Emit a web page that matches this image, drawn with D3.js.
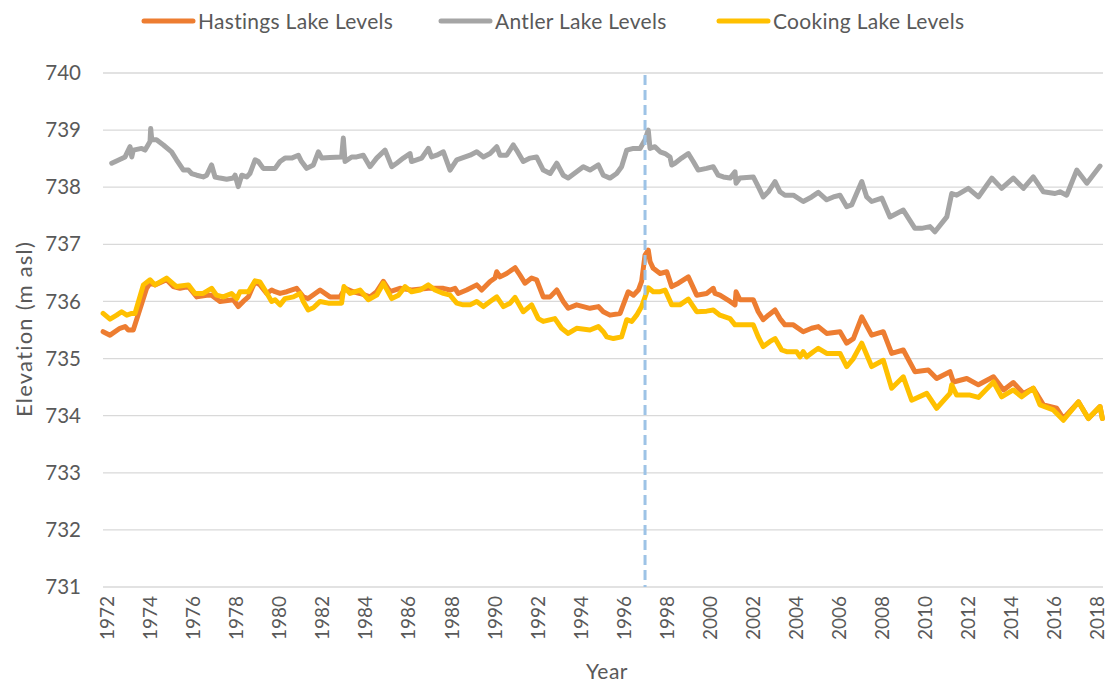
<!DOCTYPE html>
<html>
<head>
<meta charset="utf-8">
<script src="https://cdn.jsdelivr.net/npm/d3@7"></script>
<style>
  html, body { margin: 0; padding: 0; background: #fff; }
  svg { display: block; font-family: Lato, "Open Sans", sans-serif; }
</style>
</head>
<body>
<svg id="chart" width="1110" height="685"></svg>
<script>
// Lake surface elevations (decimal year, metres above sea level)
const hastingsLevels = [
  [1971.82,735.47],[1972.14,735.41],[1972.60,735.53],[1972.84,735.56],[1972.99,735.50],[1973.22,735.50],
  [1973.84,736.23],[1974.00,736.32],[1974.23,736.29],[1974.77,736.38],[1975.08,736.26],[1975.39,736.23],
  [1975.78,736.26],[1976.17,736.08],[1976.63,736.11],[1976.86,736.11],[1977.25,736.00],[1977.87,736.03],
  [1978.10,735.91],[1978.33,736.00],[1978.57,736.08],[1978.88,736.35],[1979.11,736.29],[1979.42,736.14],
  [1979.65,736.20],[1979.81,736.17],[1980.04,736.14],[1980.35,736.17],[1980.81,736.23],[1981.12,736.08],
  [1981.35,736.05],[1981.90,736.20],[1982.36,736.08],[1982.83,736.08],[1983.06,736.23],[1983.44,736.17],
  [1983.76,736.14],[1984.22,736.08],[1984.53,736.17],[1984.84,736.35],[1985.15,736.17],[1985.61,736.23],
  [1986.15,736.20],[1986.93,736.23],[1987.63,736.23],[1987.94,736.20],[1988.17,736.23],[1988.32,736.14],
  [1988.71,736.20],[1989.18,736.29],[1989.41,736.20],[1989.80,736.35],[1990.03,736.41],[1990.11,736.52],
  [1990.26,736.43],[1990.57,736.49],[1990.96,736.59],[1991.19,736.46],[1991.42,736.32],[1991.73,736.41],
  [1991.96,736.38],[1992.27,736.08],[1992.59,736.08],[1992.90,736.20],[1993.20,736.00],[1993.43,735.88],
  [1993.82,735.94],[1994.44,735.88],[1994.83,735.91],[1995.06,735.82],[1995.37,735.76],[1995.84,735.79],
  [1996.22,736.17],[1996.46,736.11],[1996.69,736.20],[1996.84,736.35],[1997.00,736.81],[1997.15,736.90],
  [1997.23,736.70],[1997.38,736.58],[1997.70,736.49],[1998.01,736.52],[1998.24,736.26],[1998.55,736.32],
  [1999.01,736.43],[1999.40,736.11],[1999.86,736.14],[2000.17,736.23],[2000.25,736.14],[2000.48,736.11],
  [2000.95,736.00],[2001.18,735.94],[2001.23,736.17],[2001.41,736.03],[2002.03,736.03],[2002.26,735.82],
  [2002.49,735.68],[2002.73,735.76],[2003.04,735.85],[2003.27,735.70],[2003.50,735.59],[2003.89,735.59],
  [2004.35,735.47],[2004.74,735.53],[2005.05,735.56],[2005.44,735.44],[2006.06,735.47],[2006.37,735.27],
  [2006.68,735.35],[2007.07,735.73],[2007.53,735.41],[2008.07,735.47],[2008.46,735.09],[2009.00,735.15],
  [2009.54,734.77],[2010.16,734.80],[2010.55,734.65],[2011.17,734.77],[2011.33,734.59],[2011.95,734.65],
  [2012.49,734.54],[2013.19,734.68],[2013.66,734.45],[2014.11,734.58],[2014.58,734.39],[2015.04,734.48],
  [2015.51,734.19],[2016.13,734.13],[2016.44,733.95],[2017.14,734.24],[2017.60,733.95],[2018.14,734.16],
  [2018.25,733.95]
];

const antlerLevels = [
  [1972.22,738.42],[1972.84,738.53],[1973.07,738.71],[1973.15,738.53],[1973.22,738.65],[1973.61,738.68],
  [1973.77,738.65],[1974.00,738.80],[1974.03,739.03],[1974.08,738.83],[1974.30,738.83],[1974.62,738.74],
  [1975.00,738.62],[1975.23,738.48],[1975.55,738.30],[1975.78,738.30],[1975.93,738.24],[1976.17,738.21],
  [1976.47,738.18],[1976.63,738.21],[1976.86,738.39],[1977.02,738.18],[1977.25,738.16],[1977.56,738.14],
  [1977.87,738.16],[1977.95,738.21],[1978.10,738.01],[1978.26,738.21],[1978.49,738.18],[1978.64,738.24],
  [1978.88,738.48],[1979.03,738.45],[1979.26,738.33],[1979.81,738.33],[1980.04,738.45],[1980.27,738.51],
  [1980.58,738.51],[1980.89,738.56],[1981.04,738.45],[1981.28,738.33],[1981.59,738.39],[1981.82,738.62],
  [1981.98,738.51],[1982.36,738.52],[1982.90,738.53],[1982.98,738.86],[1983.06,738.45],[1983.37,738.53],
  [1983.60,738.53],[1983.91,738.56],[1984.22,738.36],[1984.53,738.51],[1984.92,738.65],[1985.23,738.36],
  [1985.46,738.42],[1985.77,738.51],[1986.08,738.59],[1986.15,738.45],[1986.62,738.51],[1986.93,738.68],
  [1987.08,738.53],[1987.32,738.56],[1987.63,738.62],[1987.94,738.30],[1988.25,738.48],[1988.87,738.56],
  [1989.18,738.62],[1989.49,738.53],[1989.80,738.59],[1990.11,738.71],[1990.26,738.56],[1990.57,738.56],
  [1990.88,738.74],[1991.03,738.65],[1991.34,738.45],[1991.66,738.51],[1991.96,738.53],[1992.27,738.30],
  [1992.59,738.24],[1992.90,738.42],[1993.20,738.21],[1993.43,738.16],[1993.82,738.27],[1994.13,738.36],
  [1994.44,738.30],[1994.83,738.39],[1995.06,738.21],[1995.37,738.16],[1995.68,738.24],[1995.91,738.36],
  [1996.15,738.65],[1996.46,738.68],[1996.77,738.68],[1997.00,738.83],[1997.15,739.00],[1997.23,738.68],
  [1997.46,738.71],[1997.70,738.62],[1997.93,738.59],[1998.16,738.53],[1998.24,738.39],[1998.39,738.42],
  [1998.70,738.51],[1999.01,738.59],[1999.24,738.45],[1999.47,738.30],[1999.86,738.33],[2000.17,738.36],
  [2000.40,738.21],[2000.64,738.18],[2000.95,738.16],[2001.18,738.27],[2001.23,738.07],[2001.41,738.16],
  [2002.03,738.18],[2002.26,738.01],[2002.49,737.83],[2002.73,737.92],[2003.04,738.10],[2003.27,737.92],
  [2003.50,737.86],[2003.89,737.86],[2004.35,737.75],[2004.74,737.83],[2005.05,737.91],[2005.44,737.78],
  [2005.75,737.83],[2006.06,737.86],[2006.37,737.66],[2006.60,737.69],[2006.76,737.83],[2007.07,738.10],
  [2007.30,737.83],[2007.53,737.75],[2008.00,737.81],[2008.38,737.48],[2009.00,737.60],[2009.54,737.28],
  [2009.85,737.28],[2010.24,737.31],[2010.47,737.22],[2011.02,737.48],[2011.25,737.89],[2011.48,737.86],
  [2012.02,737.98],[2012.49,737.83],[2013.11,738.16],[2013.57,737.98],[2014.11,738.16],[2014.58,737.98],
  [2015.04,738.18],[2015.51,737.92],[2016.05,737.89],[2016.28,737.92],[2016.59,737.86],[2017.06,738.30],
  [2017.53,738.07],[2018.14,738.37]
];

const cookingLevels = [
  [1971.82,735.79],[1972.14,735.69],[1972.45,735.76],[1972.68,735.82],[1972.92,735.76],[1973.15,735.79],
  [1973.30,735.79],[1973.69,736.29],[1974.00,736.38],[1974.23,736.29],[1974.77,736.41],[1975.23,736.26],
  [1975.78,736.29],[1976.09,736.14],[1976.47,736.14],[1976.86,736.23],[1977.09,736.11],[1977.40,736.08],
  [1977.79,736.14],[1978.03,736.05],[1978.18,736.17],[1978.57,736.17],[1978.88,736.36],[1979.11,736.34],
  [1979.34,736.20],[1979.65,736.00],[1979.81,736.03],[1980.04,735.94],[1980.27,736.05],[1980.66,736.08],
  [1980.97,736.14],[1981.12,736.00],[1981.35,735.85],[1981.59,735.89],[1981.90,736.00],[1982.28,735.97],
  [1982.90,735.97],[1983.01,736.26],[1983.29,736.14],[1983.76,736.20],[1984.14,736.03],[1984.53,736.11],
  [1984.84,736.32],[1985.23,736.05],[1985.54,736.11],[1985.85,736.26],[1986.15,736.17],[1986.54,736.20],
  [1986.93,736.29],[1987.24,736.20],[1987.63,736.14],[1987.94,736.11],[1988.25,735.97],[1988.55,735.94],
  [1988.87,735.94],[1989.18,736.00],[1989.49,735.91],[1989.80,736.00],[1990.11,736.08],[1990.42,735.91],
  [1990.73,735.97],[1990.96,736.07],[1991.34,735.82],[1991.73,735.94],[1992.04,735.70],[1992.27,735.65],
  [1992.81,735.70],[1993.12,735.53],[1993.43,735.44],[1993.82,735.53],[1994.44,735.50],[1994.83,735.56],
  [1995.06,735.47],[1995.22,735.38],[1995.53,735.35],[1995.91,735.38],[1996.15,735.68],[1996.38,735.65],
  [1996.61,735.76],[1996.84,735.91],[1997.15,736.24],[1997.38,736.17],[1997.70,736.17],[1997.93,736.20],
  [1998.24,735.94],[1998.62,735.94],[1999.01,736.04],[1999.40,735.82],[1999.86,735.83],[2000.17,735.85],
  [2000.48,735.76],[2000.95,735.70],[2001.18,735.59],[2002.03,735.59],[2002.26,735.38],[2002.49,735.21],
  [2002.81,735.30],[2003.04,735.35],[2003.35,735.15],[2003.58,735.12],[2004.04,735.12],[2004.20,735.03],
  [2004.35,735.12],[2004.51,735.03],[2004.82,735.12],[2005.05,735.18],[2005.44,735.09],[2006.06,735.09],
  [2006.37,734.86],[2006.68,735.00],[2007.07,735.27],[2007.53,734.86],[2008.07,734.97],[2008.46,734.48],
  [2009.00,734.68],[2009.39,734.27],[2010.09,734.39],[2010.55,734.13],[2011.17,734.39],[2011.25,734.54],
  [2011.48,734.36],[2012.10,734.36],[2012.49,734.32],[2013.19,734.59],[2013.57,734.33],[2014.11,734.45],
  [2014.50,734.33],[2015.04,734.48],[2015.35,734.19],[2015.97,734.10],[2016.44,733.92],[2017.14,734.24],
  [2017.60,733.95],[2018.14,734.16],[2018.25,733.95]
];

const seriesNames = ["Hastings Lake Levels", "Antler Lake Levels", "Cooking Lake Levels"];
const seriesColors = ["#ED7D31", "#A5A5A5", "#FFC000"];
const yearTicks = d3.range(1972, 2019, 2);
const elevationTicks = d3.range(731, 741, 1);
const markerYear = 1997;

const svg = d3.select("#chart");
const plot = { left: 103, right: 1103, top: 73, bottom: 587 };

const x = d3.scaleLinear().domain([1971.814, 2018.279]).range([plot.left, plot.right]);
const y = d3.scaleLinear().domain([731, 740]).range([plot.bottom, plot.top]);

// horizontal gridlines (the lowest doubles as the category axis line)
svg.append("g")
  .selectAll("line")
  .data(elevationTicks)
  .join("line")
  .attr("x1", plot.left).attr("x2", plot.right)
  .attr("y1", d => y(d)).attr("y2", d => y(d))
  .attr("stroke", "#D9D9D9").attr("stroke-width", 1.3);

// y axis labels
const yAxis = d3.axisLeft(y).tickValues(elevationTicks).tickSize(0).tickPadding(0).tickFormat(d3.format("d"));
const yg = svg.append("g").attr("transform", `translate(${plot.left - 22},0)`).call(yAxis);
yg.select(".domain").remove();
yg.selectAll("text").attr("font-size", 20.5).attr("fill", "#595959")
  .attr("font-family", "Lato, 'Open Sans', sans-serif");

// x axis labels, rotated
const xAxis = d3.axisBottom(x).tickValues(yearTicks).tickSize(0).tickPadding(0).tickFormat(d3.format("d"));
const xg = svg.append("g").attr("transform", `translate(0,${plot.bottom})`).call(xAxis);
xg.select(".domain").remove();
xg.selectAll("text")
  .attr("font-size", 19).attr("fill", "#595959")
  .attr("font-family", "Lato, 'Open Sans', sans-serif")
  .attr("transform", "rotate(-90)")
  .attr("text-anchor", "end")
  .attr("x", -9).attr("y", 0).attr("dy", "0.35em");

// axis titles
svg.append("text")
  .attr("transform", `translate(32,329) rotate(-90)`)
  .attr("text-anchor", "middle")
  .attr("font-size", 22).attr("fill", "#595959")
  .attr("letter-spacing", 1.2)
  .text("Elevation (m asl)");

svg.append("text")
  .attr("x", 607).attr("y", 679)
  .attr("text-anchor", "middle")
  .attr("font-size", 21).attr("fill", "#595959")
  .attr("letter-spacing", 0.5)
  .text("Year");

// series lines
const line = d3.line().x(d => x(d[0])).y(d => y(d[1]));
const allSeries = [hastingsLevels, antlerLevels, cookingLevels];
svg.append("g")
  .selectAll("path")
  .data(allSeries)
  .join("path")
  .attr("d", line)
  .attr("fill", "none")
  .attr("stroke", (d, i) => seriesColors[i])
  .attr("stroke-width", 5)
  .attr("stroke-linejoin", "round")
  .attr("stroke-linecap", "round");

// dashed marker at 1997
svg.append("line")
  .attr("x1", x(markerYear)).attr("x2", x(markerYear))
  .attr("y1", plot.top + 2).attr("y2", plot.bottom)
  .attr("stroke", "#9DC3E6").attr("stroke-width", 3)
  .attr("stroke-dasharray", "10,5");

// legend
const legendX = [143, 440, 718];
const legend = svg.append("g")
  .selectAll("g")
  .data(seriesNames)
  .join("g")
  .attr("transform", (d, i) => `translate(${legendX[i]},21)`);
legend.append("line")
  .attr("x1", 1).attr("x2", 50).attr("y1", 0).attr("y2", 0)
  .attr("stroke", (d, i) => seriesColors[i])
  .attr("stroke-width", 5).attr("stroke-linecap", "round");
legend.append("text")
  .attr("x", 55).attr("y", 7.5)
  .attr("font-size", 21).attr("fill", "#595959")
  .attr("letter-spacing", 0.3)
  .text(d => d);
</script>
</body>
</html>
